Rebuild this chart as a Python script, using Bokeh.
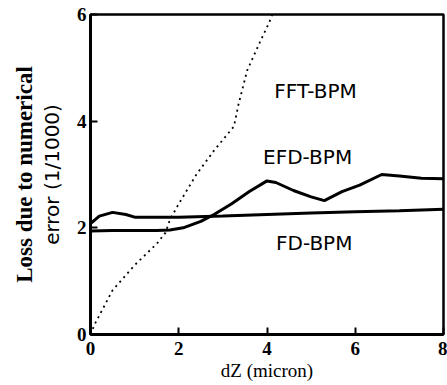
from bokeh.plotting import figure
from bokeh.models import Range1d, FixedTicker, Label, LinearAxis
from bokeh.embed import file_html
from bokeh.resources import INLINE

# Data
efd_x = [0, 0.5, 1.0, 1.5, 1.8, 2.1, 2.5, 2.8, 3.2, 3.6, 4.0, 4.2, 4.6, 5.0, 5.3, 5.7, 6.1, 6.6, 7.0, 7.5, 8.0]
efd_y = [1.94, 1.95, 1.95, 1.95, 1.96, 2.00, 2.12, 2.25, 2.45, 2.68, 2.88, 2.85, 2.70, 2.58, 2.51, 2.68, 2.80, 3.00, 2.97, 2.93, 2.92]

fd_x = [0, 0.2, 0.5, 0.8, 1.0, 2.0, 3.0, 4.0, 5.0, 6.0, 7.0, 8.0]
fd_y = [2.08, 2.22, 2.29, 2.25, 2.20, 2.20, 2.22, 2.25, 2.28, 2.30, 2.32, 2.35]

fft_x = [0, 0.1, 0.5, 1.0, 1.5, 1.7, 1.8, 2.0, 2.4, 2.8, 3.25, 3.35, 3.55, 3.85, 4.05, 4.12]
fft_y = [0, 0.20, 0.83, 1.30, 1.70, 1.91, 2.15, 2.45, 3.00, 3.45, 3.90, 4.30, 4.95, 5.50, 5.85, 6.00]

x_ticks = [0, 2, 4, 6, 8]
y_ticks = [0, 2, 4, 6]

labels = ["FFT-BPM", "EFD-BPM", "FD-BPM"]
label_x = [5.10, 4.92, 5.07]
label_y = [4.57, 3.32, 1.72]

y_title_1 = "Loss due to numerical"
y_title_2 = "error (1/1000)"

serif = "Liberation Serif"
sans = "Liberation Sans"
wide_sans = "DejaVu Sans"

p = figure(width=447, height=385, output_backend="svg", toolbar_location=None,
           x_range=Range1d(0, 8), y_range=Range1d(0, 6),
           min_border_left=90, min_border_right=4, min_border_top=14, min_border_bottom=51)
p.frame_width = 353
p.frame_height = 320
p.background_fill_color = "white"
p.border_fill_color = "white"
p.grid.visible = False
p.outline_line_color = "black"
p.outline_line_width = 2.5

for ax in (p.xaxis[0], p.yaxis[0]):
    ax.axis_line_width = 3
    ax.axis_line_color = "black"
    ax.major_tick_in = 7
    ax.major_tick_out = 0
    ax.major_tick_line_width = 2
    ax.minor_tick_line_color = None
    ax.major_label_text_font = serif
    ax.major_label_text_font_style = "bold"
    ax.major_label_text_font_size = "19px"
    ax.major_label_text_color = "black"
    ax.axis_label_text_color = "black"

p.xaxis.ticker = FixedTicker(ticks=x_ticks)
p.yaxis.ticker = FixedTicker(ticks=y_ticks)
p.xaxis.major_label_standoff = 7
p.yaxis.major_label_standoff = 4
p.xaxis.axis_label = "dZ (micron)"
p.xaxis.axis_label_text_font = serif
p.xaxis.axis_label_text_font_size = "19px"
p.xaxis.axis_label_text_font_style = "normal"
p.xaxis.axis_label_standoff = 2

# inner line of the y title on the main axis
p.yaxis.axis_label = y_title_2
p.yaxis.axis_label_text_font = wide_sans
p.yaxis.axis_label_text_font_style = "normal"
p.yaxis.axis_label_text_font_size = "20px"
p.yaxis.axis_label_standoff = 10

# outer line of the y title on a bare extra axis
outer = LinearAxis(ticker=FixedTicker(ticks=[]), axis_label=y_title_1,
                   axis_line_color=None, major_tick_line_color=None,
                   minor_tick_line_color=None, major_label_text_font_size="0px",
                   axis_label_text_font=serif, axis_label_text_font_style="bold",
                   axis_label_text_font_size="23px", axis_label_text_color="black",
                   axis_label_standoff=0)
p.add_layout(outer, "left")

p.line(fft_x, fft_y, line_color="black", line_width=1.8, line_dash="2 4")
p.line(efd_x, efd_y, line_color="black", line_width=3)
p.line(fd_x, fd_y, line_color="black", line_width=3)

for t, lx, ly in zip(labels, label_x, label_y):
    p.add_layout(Label(x=lx, y=ly, text=t, text_font=wide_sans, text_font_size="20px",
                       text_align="center", text_baseline="middle", text_color="black"))

open("out.html", "w").write(file_html(p, INLINE))
